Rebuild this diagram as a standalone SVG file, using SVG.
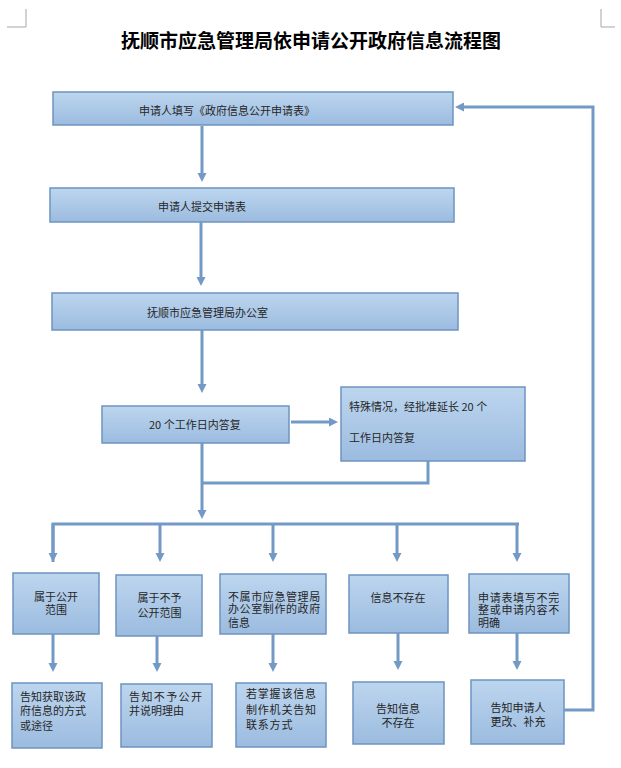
<svg xmlns="http://www.w3.org/2000/svg" width="621" height="768" viewBox="0 0 621 768">
<defs>
<linearGradient id="g" x1="0" y1="0" x2="0" y2="1">
<stop offset="0" stop-color="#bdd6ef"/>
<stop offset="1" stop-color="#9bbbdf"/>
</linearGradient>
<marker id="ah" markerUnits="userSpaceOnUse" markerWidth="10" markerHeight="10" refX="2" refY="4.5" orient="auto">
<path d="M0,0 L9,4.5 L0,9 z" fill="#7399c5"/>
</marker>
<style>
.box{fill:url(#g);stroke:#6d94c1;stroke-width:1.5}
.t{font-family:"Noto Sans CJK SC","Noto Sans",sans-serif;font-size:11px;fill:#262626}
.c{text-anchor:middle}
.title{font-family:"Noto Sans CJK SC","Noto Sans",sans-serif;font-size:19px;font-weight:700;fill:#000;text-anchor:middle}
.ln{fill:none;stroke:#7399c5;stroke-width:3}
.ar{fill:none;stroke:#7399c5;stroke-width:3;marker-end:url(#ah)}
.mark{fill:none;stroke:#a6a6a6;stroke-width:1}
</style>
</defs>
<path class="mark" d="M7,27 H26 V9"/>
<path class="mark" d="M601,9 V27 H615"/>
<text class="title" x="311" y="48">抚顺市应急管理局依申请公开政府信息流程图</text>

<g id="n1"><rect class="box" x="53" y="92" width="400" height="33"/><text class="t" x="139" y="115">申请人填写《政府信息公开申请表》</text></g>
<g id="n2"><rect class="box" x="50" y="188" width="404" height="34"/><text class="t" x="158" y="211">申请人提交申请表</text></g>
<g id="n3"><rect class="box" x="52" y="293" width="406" height="37"/><text class="t" x="147" y="317">抚顺市应急管理局办公室</text></g>
<g id="n4"><rect class="box" x="102" y="406" width="187" height="37"/><text class="t" x="149" y="429">20 个工作日内答复</text></g>
<g id="n5"><rect class="box" x="341" y="387" width="184" height="74"/><text class="t" x="349" y="411">特殊情况，经批准延长 20 个</text><text class="t" x="349" y="442">工作日内答复</text></g>

<g id="a1"><rect class="box" x="13" y="573" width="86" height="61"/><text class="t c" x="56" y="601">属于公开</text><text class="t c" x="56" y="614">范围</text></g>
<g id="a2"><rect class="box" x="116" y="575" width="86" height="61"/><text class="t c" x="159.5" y="602">属于不予</text><text class="t c" x="159.5" y="617">公开范围</text></g>
<g id="a3"><rect class="box" x="220" y="574" width="106" height="60"/><text class="t" x="228" y="601" letter-spacing="0.6">不属市应急管理局</text><text class="t" x="228" y="613" letter-spacing="0.6">办公室制作的政府</text><text class="t" x="228" y="627">信息</text></g>
<g id="a4"><rect class="box" x="349" y="575" width="99" height="58"/><text class="t c" x="398" y="602">信息不存在</text></g>
<g id="a5"><rect class="box" x="469" y="574" width="100" height="59"/><text class="t" x="478" y="602" letter-spacing="0.7">申请表填写不完</text><text class="t" x="478" y="614" letter-spacing="0.7">整或申请内容不</text><text class="t" x="478" y="627">明确</text></g>

<g id="b1"><rect class="box" x="12" y="683" width="90" height="65"/><text class="t" x="20" y="701">告知获取该政</text><text class="t" x="20" y="715">府信息的方式</text><text class="t" x="20" y="730">或途径</text></g>
<g id="b2"><rect class="box" x="121" y="684" width="91" height="63"/><text class="t" x="129" y="701" letter-spacing="1.4">告知不予公开</text><text class="t" x="129" y="715">并说明理由</text></g>
<g id="b3"><rect class="box" x="236" y="683" width="90" height="64"/><text class="t" x="246" y="698" letter-spacing="0.8">若掌握该信息</text><text class="t" x="246" y="714" letter-spacing="0.8">制作机关告知</text><text class="t" x="246" y="729" letter-spacing="0.8">联系方式</text></g>
<g id="b4"><rect class="box" x="353" y="682" width="91" height="62"/><text class="t c" x="398" y="713">告知信息</text><text class="t c" x="398" y="727">不存在</text></g>
<g id="b5"><rect class="box" x="471" y="680" width="93" height="64"/><text class="t c" x="518" y="712">告知申请人</text><text class="t c" x="518" y="726">更改、补充</text></g>

<g id="connectors">
<line class="ar" x1="202" y1="126" x2="202" y2="175"/>
<line class="ar" x1="201" y1="222" x2="201" y2="279"/>
<line class="ar" x1="202" y1="330" x2="202" y2="386"/>
<line class="ar" x1="291" y1="422" x2="331" y2="422"/>
<line class="ar" x1="202" y1="443" x2="202" y2="512"/>
<polyline class="ln" points="428,461 428,483 202,483"/>
<polyline class="ln" points="53,562 53,524 519,524"/>
<line class="ar" x1="53" y1="524" x2="53" y2="555"/>
<line class="ar" x1="160" y1="524" x2="160" y2="555"/>
<line class="ar" x1="273" y1="524" x2="273" y2="555"/>
<line class="ar" x1="397" y1="524" x2="397" y2="555"/>
<line class="ar" x1="517" y1="524" x2="517" y2="555"/>
<line class="ar" x1="53" y1="634" x2="53" y2="665"/>
<line class="ar" x1="157" y1="636" x2="157" y2="665"/>
<line class="ar" x1="273" y1="634" x2="273" y2="665"/>
<line class="ar" x1="398" y1="633" x2="398" y2="663"/>
<line class="ar" x1="517" y1="633" x2="517" y2="663"/>
<polyline class="ar" points="564,710 593,710 593,107 462,107"/>
</g>
</svg>
